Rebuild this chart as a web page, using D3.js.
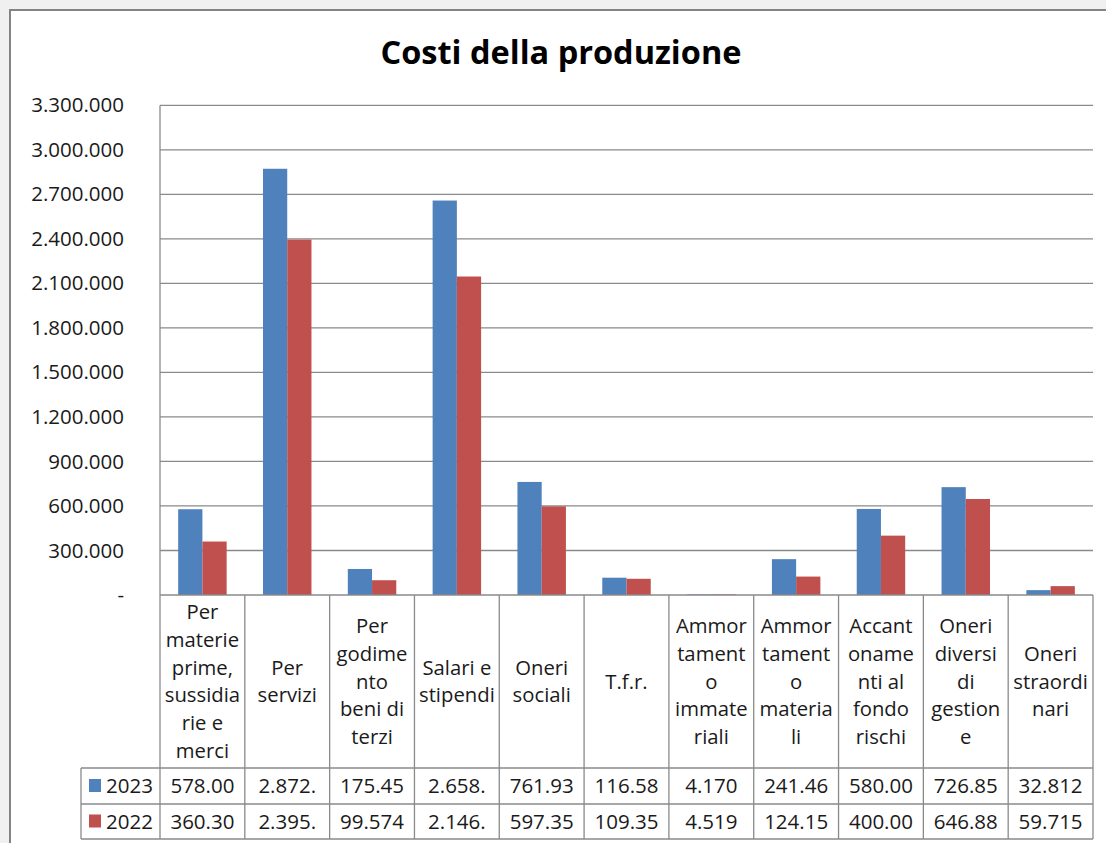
<!DOCTYPE html>
<html>
<head>
<meta charset="utf-8">
<script src="https://cdnjs.cloudflare.com/ajax/libs/d3/7.8.5/d3.min.js"></script>
<style>
  html, body { margin: 0; padding: 0; background: #f0f0f0; }
  svg { display: block; }
  text { font-family: "Open Sans", "Noto Sans", sans-serif; fill: #1a1a1a; }
</style>
</head>
<body>
<svg id="chart"></svg>
<script>
//data
const categories = [
    "Per\nmaterie\nprime,\nsussidia\nrie e\nmerci",
    "Per\nservizi",
    "Per\ngodime\nnto\nbeni di\nterzi",
    "Salari e\nstipendi",
    "Oneri\nsociali",
    "T.f.r.",
    "Ammor\ntament\no\nimmate\nriali",
    "Ammor\ntament\no\nmateria\nli",
    "Accant\noname\nnti al\nfondo\nrischi",
    "Oneri\ndiversi\ndi\ngestion\ne",
    "Oneri\nstraordi\nnari"
];
const seriesNames = ["2023", "2022"];
const values2023 = [578004, 2872350, 175456, 2658210, 761935, 116584, 4170, 241463, 580000, 726853, 32812];
const values2022 = [360305, 2395120, 99574, 2146280, 597354, 109356, 4519, 124152, 400000, 646884, 59715];
const yTicks = [0, 300000, 600000, 900000, 1200000, 1500000, 1800000, 2100000, 2400000, 2700000, 3000000, 3300000];
const colors = ["#4f81bd", "#c0504d"];

//constants
const W = 1106, H = 843;
const plot = {left: 160, right: 1093, top: 105.3, bottom: 595};
const table = {left: 81, header: 768, row1: 804, row2: 839};
const lineColor = "#8a8a8a";

const it = d3.formatLocale({decimal: ",", thousands: ".", grouping: [3], currency: ["€", ""]});
const fmt = it.format(",.0f");

function main() {
    const seriesValues = [values2023, values2022];

    let svg = d3.select("#chart")
        .attr("width", W)
        .attr("height", H);

    //frame
    svg.append("rect")
        .attr("x", 10).attr("y", 10)
        .attr("width", W + 20).attr("height", H + 20)
        .attr("fill", "#ffffff")
        .attr("stroke", "#838383")
        .attr("stroke-width", 2);

    //title
    svg.append("text")
        .attr("x", 561)
        .attr("y", 64)
        .style("text-anchor", "middle")
        .style("font-size", "32.5px")
        .style("font-weight", "bold")
        .style("fill", "#000")
        .text("Costi della produzione");

    //scales
    let yScale = d3.scaleLinear()
        .domain([0, 3300000])
        .range([plot.bottom, plot.top]);

    let xScale = d3.scaleBand()
        .domain(d3.range(categories.length))
        .range([plot.left, plot.right]);

    let bw = xScale.bandwidth();
    let barW = bw / 3.5;
    let x1 = d3.scaleBand()
        .domain(seriesNames)
        .range([barW * 0.75, barW * 2.75]);

    //gridlines
    svg.append("g")
        .selectAll("line")
        .data(yTicks.slice(1))
        .join("line")
        .attr("x1", plot.left).attr("x2", plot.right)
        .attr("y1", d => yScale(d)).attr("y2", d => yScale(d))
        .attr("stroke", lineColor)
        .attr("stroke-width", 1.3);

    //y axis
    let yAxis = d3.axisLeft(yScale)
        .tickValues(yTicks)
        .tickSize(0)
        .tickPadding(36)
        .tickFormat(d => d === 0 ? "-" : fmt(d));

    let yg = svg.append("g")
        .attr("transform", "translate(" + plot.left + ",0)")
        .call(yAxis);
    yg.select(".domain").remove();
    yg.selectAll("text")
        .style("font-size", "20.5px")
        .style("font-family", "'Open Sans', sans-serif")
        .attr("fill", "#1a1a1a");

    //bars
    svg.append("g")
        .selectAll("g")
        .data(seriesNames)
        .join("g")
        .attr("fill", (d, i) => colors[i])
        .selectAll("rect")
        .data((d, i) => seriesValues[i].map((v, j) => ({s: d, j: j, v: v})))
        .join("rect")
        .attr("x", d => xScale(d.j) + x1(d.s))
        .attr("y", d => yScale(d.v))
        .attr("width", x1.bandwidth())
        .attr("height", d => yScale(0) - yScale(d.v));

    //data table lines
    let tl = svg.append("g")
        .attr("stroke", lineColor)
        .attr("stroke-width", 1.3);

    tl.append("line")
        .attr("x1", plot.left).attr("x2", plot.left)
        .attr("y1", plot.top).attr("y2", table.row2);

    tl.selectAll(".vcol")
        .data(d3.range(1, categories.length + 1))
        .join("line")
        .attr("x1", d => plot.left + d * bw).attr("x2", d => plot.left + d * bw)
        .attr("y1", plot.bottom).attr("y2", table.row2);

    tl.append("line")
        .attr("x1", plot.left).attr("x2", plot.right)
        .attr("y1", plot.bottom).attr("y2", plot.bottom);

    tl.selectAll(".hrow")
        .data([table.header, table.row1, table.row2])
        .join("line")
        .attr("x1", table.left).attr("x2", plot.right)
        .attr("y1", d => d).attr("y2", d => d);

    tl.append("line")
        .attr("x1", table.left).attr("x2", table.left)
        .attr("y1", table.header).attr("y2", table.row2);

    //category headers
    let lineH = 27.7;
    let headMid = (plot.bottom + table.header) / 2;
    svg.append("g")
        .selectAll("text")
        .data(categories)
        .join("text")
        .attr("x", (d, i) => xScale(i) + bw / 2)
        .attr("y", headMid)
        .style("text-anchor", "middle")
        .style("font-size", "20.3px")
        .each(function(d) {
            let lines = d.split("\n");
            let top = -(lines.length - 1) * lineH / 2;
            d3.select(this).selectAll("tspan")
                .data(lines)
                .join("tspan")
                .attr("x", d3.select(this).attr("x"))
                .attr("y", (l, k) => headMid + top + k * lineH)
                .attr("dy", "0.35em")
                .text(l => l);
        });

    //table rows
    let rowTops = [table.header, table.row1];
    let rowBots = [table.row1, table.row2];
    seriesNames.forEach(function(name, i) {
        let yMid = (rowTops[i] + rowBots[i]) / 2;

        //legend key
        svg.append("rect")
            .attr("x", 89)
            .attr("y", yMid - 7)
            .attr("width", 12)
            .attr("height", 13)
            .attr("fill", colors[i]);

        svg.append("text")
            .attr("x", 106)
            .attr("y", yMid)
            .attr("dy", "0.35em")
            .style("font-size", "20.5px")
            .text(name);

        //values, cut to fit the cell like Excel does
        svg.append("g")
            .selectAll("text")
            .data(seriesValues[i])
            .join("text")
            .attr("x", (d, j) => xScale(j) + bw / 2)
            .attr("y", yMid)
            .attr("dy", "0.35em")
            .style("text-anchor", "middle")
            .style("font-size", "20.5px")
            .text(d => fmt(d))
            .each(function() {
                let t = d3.select(this);
                let s = t.text();
                while (this.getComputedTextLength() > 66.5 && s.length > 1) {
                    s = s.slice(0, -1);
                    t.text(s);
                }
            });
    });
}

main();
</script>
</body>
</html>
